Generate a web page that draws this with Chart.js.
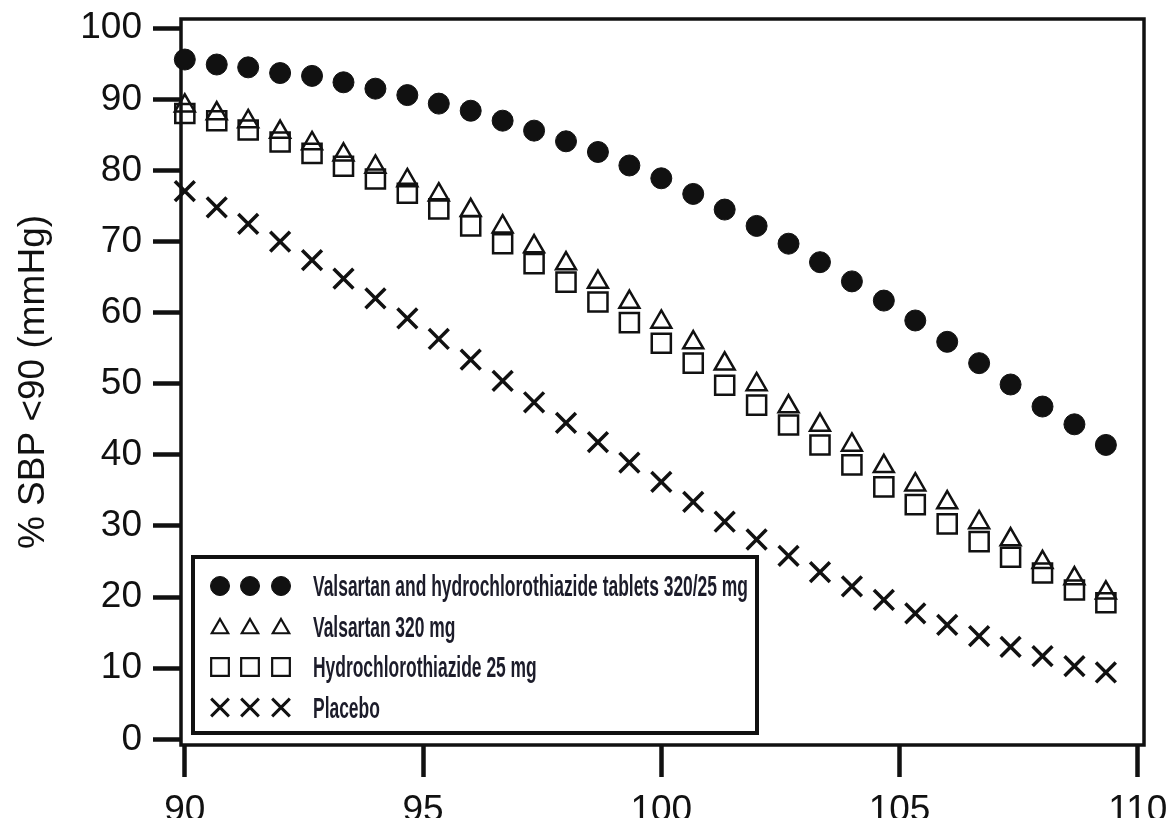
<!DOCTYPE html>
<html>
<head>
<meta charset="utf-8">
<title>% SBP &lt;90 (mmHg)</title>
<script src="https://cdn.jsdelivr.net/npm/chart.js@4.4.1/dist/chart.umd.min.js"></script>
<style>
    html, body { margin: 0; padding: 0; background: #fff; overflow: hidden; }
    #wrap { width: 1171px; height: 845px; }
</style>
</head>
<body>
<div id="wrap"><canvas id="canvas-sbp"></canvas></div>
<script>
// sitting SBP threshold (mmHg) on the x axis
const sbpLevels = [90, 90.67, 91.33, 92, 92.67, 93.33, 94, 94.67, 95.33, 96,
    96.67, 97.33, 98, 98.67, 99.33, 100, 100.67, 101.33, 102, 102.67,
    103.33, 104, 104.67, 105.33, 106, 106.67, 107.33, 108, 108.67, 109.33];

const comboValues = [95.6, 94.9, 94.5, 93.7, 93.3, 92.4, 91.5, 90.6, 89.4, 88.4,
    87.0, 85.6, 84.1, 82.6, 80.7, 78.9, 76.7, 74.5, 72.2, 69.7,
    67.1, 64.4, 61.7, 58.9, 55.9, 52.9, 49.9, 46.8, 44.3, 41.4];

const valsartanValues = [89.1, 88.0, 86.9, 85.4, 83.8, 82.2, 80.5, 78.6, 76.6, 74.4,
    72.1, 69.3, 66.9, 64.3, 61.5, 58.7, 55.8, 52.8, 49.9, 46.8,
    44.2, 41.4, 38.4, 35.8, 33.3, 30.5, 28.1, 24.9, 22.6, 20.6];

const hctzValues = [88.0, 87.0, 85.7, 84.0, 82.4, 80.6, 78.8, 76.8, 74.6, 72.2,
    69.7, 66.9, 64.3, 61.5, 58.6, 55.7, 52.9, 49.8, 47.0, 44.2,
    41.4, 38.6, 35.5, 33.0, 30.3, 27.8, 25.6, 23.4, 21.0, 19.2];

const placeboValues = [77.1, 74.8, 72.5, 70.0, 67.4, 64.8, 62.0, 59.2, 56.3, 53.4,
    50.4, 47.4, 44.5, 41.8, 38.9, 36.2, 33.4, 30.6, 28.1, 25.8,
    23.5, 21.5, 19.6, 17.7, 16.1, 14.5, 13.0, 11.7, 10.3, 9.4];

const legendLabels = [
    'Valsartan and hydrochlorothiazide tablets 320/25 mg',
    'Valsartan 320 mg',
    'Hydrochlorothiazide 25 mg',
    'Placebo'
];

const xTickValues = [90, 95, 100, 105, 110];
const yTickValues = [0, 10, 20, 30, 40, 50, 60, 70, 80, 90, 100];

const ink = '#111';
const tickFont = { family: "'Liberation Sans', Arial, sans-serif", size: 37 };

function toPoints(values) {
    return sbpLevels.map((x, i) => ({ x: x, y: values[i] }));
}

const seriesStyles = [
    { pointStyle: 'circle', pointRadius: 10.5, backgroundColor: ink, borderWidth: 1 },
    { pointStyle: 'triangle', pointRadius: 11.5, backgroundColor: 'rgba(255,255,255,0)', borderWidth: 2.5 },
    { pointStyle: 'rect', pointRadius: 13.5, backgroundColor: 'rgba(255,255,255,0)', borderWidth: 2.5 },
    { pointStyle: 'crossRot', pointRadius: 14, backgroundColor: ink, borderWidth: 3.5 }
];

const allValues = [comboValues, valsartanValues, hctzValues, placeboValues];

const datasets = allValues.map((values, i) => ({
    label: legendLabels[i],
    data: toPoints(values),
    showLine: false,
    clip: false,
    borderColor: ink,
    pointStyle: seriesStyles[i].pointStyle,
    pointRadius: seriesStyles[i].pointRadius,
    pointHoverRadius: seriesStyles[i].pointRadius,
    backgroundColor: seriesStyles[i].backgroundColor,
    borderWidth: seriesStyles[i].borderWidth
}));

// box round the plot area
const framePlugin = {
    id: 'frame',
    beforeDatasetsDraw(chart) {
        const a = chart.chartArea;
        const ctx = chart.ctx;
        ctx.save();
        ctx.strokeStyle = ink;
        ctx.lineWidth = 3.5;
        ctx.strokeRect(a.left, a.top, a.right - a.left, a.bottom - a.top);
        ctx.restore();
    }
};

// legend inside the plot, three markers per entry
const boxLegendPlugin = {
    id: 'boxLegend',
    afterDatasetsDraw(chart) {
        const ctx = chart.ctx;
        const box = { left: 193, top: 557, width: 564, height: 176 };
        const legendMarks = [
            { pointStyle: 'circle', radius: 9.5, fill: ink, borderWidth: 1 },
            { pointStyle: 'triangle', radius: 9.5, fill: '#fff', borderWidth: 2.2 },
            { pointStyle: 'rect', radius: 12.5, fill: '#fff', borderWidth: 2.2 },
            { pointStyle: 'crossRot', radius: 12.5, fill: ink, borderWidth: 3 }
        ];
        ctx.save();
        ctx.fillStyle = '#fff';
        ctx.fillRect(box.left, box.top, box.width, box.height);
        ctx.strokeStyle = ink;
        ctx.lineWidth = 4;
        ctx.strokeRect(box.left, box.top, box.width, box.height);

        ctx.font = "bold 29px 'Liberation Sans Narrow', 'Liberation Sans', Arial, sans-serif";
        const widest = Math.max(...legendLabels.map(t => ctx.measureText(t).width));
        const squeeze = Math.min(1, 435 / widest);

        legendLabels.forEach((label, i) => {
            const y = box.top + 29 + i * 40.5;
            const m = legendMarks[i];
            [27, 57, 88].forEach(dx => {
                ctx.fillStyle = m.fill;
                ctx.strokeStyle = ink;
                ctx.lineWidth = m.borderWidth;
                Chart.helpers.drawPoint(ctx, {
                    pointStyle: m.pointStyle,
                    radius: m.radius,
                    rotation: 0,
                    borderWidth: m.borderWidth
                }, box.left + dx, y + (m.pointStyle === 'triangle' ? 2 : 0));
            });
            ctx.save();
            ctx.translate(box.left + 120, y);
            ctx.scale(squeeze, 1);
            ctx.fillStyle = '#1c1c2a';
            ctx.textBaseline = 'middle';
            ctx.textAlign = 'left';
            ctx.fillText(label, 0, 2);
            ctx.restore();
        });
        ctx.restore();
    }
};

const canvas = document.getElementById('canvas-sbp');
const ctx = canvas.getContext('2d');

new Chart(ctx, {
    type: 'scatter',
    data: { datasets: datasets },
    options: {
        responsive: true,
        maintainAspectRatio: false,
        animation: false,
        layout: { padding: { top: 19, right: 27, left: 0, bottom: 0 } },
        plugins: {
            legend: { display: false },
            tooltip: { enabled: false }
        },
        scales: {
            x: {
                type: 'linear',
                min: 89.92,
                max: 110.13,
                afterBuildTicks: axis => { axis.ticks = xTickValues.map(v => ({ value: v })); },
                afterFit: axis => {
                    axis.height = 100;
                    axis.paddingLeft = 0;
                    axis.paddingRight = 0;
                },
                border: { display: false },
                grid: {
                    drawOnChartArea: false,
                    drawTicks: true,
                    tickLength: 32,
                    tickWidth: 4.5,
                    tickColor: ink
                },
                ticks: {
                    color: ink,
                    font: tickFont,
                    padding: 12,
                    maxRotation: 0,
                    autoSkip: false
                }
            },
            y: {
                type: 'linear',
                min: -0.8,
                max: 101.3,
                afterBuildTicks: axis => { axis.ticks = yTickValues.map(v => ({ value: v })); },
                afterFit: axis => {
                    axis.width = 181;
                    axis.paddingTop = 0;
                    axis.paddingBottom = 0;
                },
                border: { display: false },
                grid: {
                    drawOnChartArea: false,
                    drawTicks: true,
                    tickLength: 28,
                    tickWidth: 4.5,
                    tickColor: ink
                },
                ticks: {
                    color: ink,
                    font: tickFont,
                    padding: 11,
                    autoSkip: false
                },
                title: {
                    display: true,
                    text: '% SBP <90 (mmHg)',
                    color: ink,
                    font: { family: "'Liberation Sans', Arial, sans-serif", size: 37 },
                    padding: { top: 12, bottom: 0 }
                }
            }
        }
    },
    plugins: [framePlugin, boxLegendPlugin]
});
</script>
</body>
</html>
